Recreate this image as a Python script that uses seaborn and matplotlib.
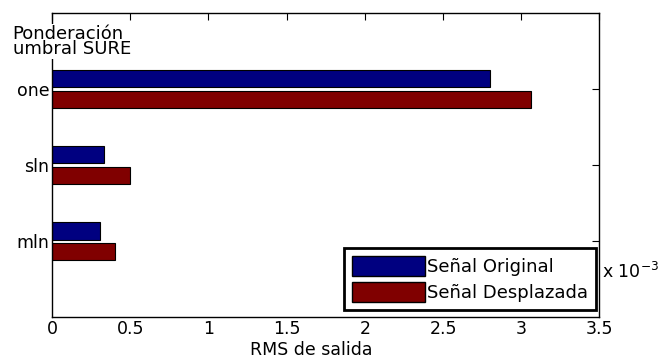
import matplotlib
matplotlib.use("Agg")
import matplotlib.pyplot as plt
import seaborn as sns
import pandas as pd
from matplotlib.patches import Patch

categories = ["one", "sln", "mln"]
series = ["Señal Original", "Señal Desplazada"]
original = [2.80, 0.33, 0.31]      # x 10^-3
desplazada = [3.06, 0.50, 0.40]    # x 10^-3
colors = ["#000080", "#800000"]
xticks = [0, 0.5, 1, 1.5, 2, 2.5, 3, 3.5]

sns.set_style("white")
plt.rcParams['font.family'] = ['DejaVu Sans']
plt.rcParams['text.color'] = 'black'
plt.rcParams['axes.labelcolor'] = 'black'
plt.rcParams['xtick.color'] = 'black'
plt.rcParams['ytick.color'] = 'black'
FS = 12.5
LFS = 13

rows = []
for c, o, d in zip(categories, original, desplazada):
    rows.append({"cat": c, "serie": series[0], "val": o})
    rows.append({"cat": c, "serie": series[1], "val": d})
df = pd.DataFrame(rows)

fig = plt.figure(figsize=(6.62, 3.6), dpi=100)
fig.patch.set_facecolor("white")
ax = fig.add_axes([0.0785, 0.119, 0.827, 0.845])

sns.barplot(data=df, y="cat", x="val", hue="serie", order=categories,
            hue_order=series, palette=colors, orient="h", width=0.55, gap=0.15,
            edgecolor="black", linewidth=0.8, saturation=1, legend=False, ax=ax)

ax.set_xlim(0, 3.5)
ax.set_ylim(3, -1)
ax.set_xticks(xticks)
ax.set_xticklabels([f"{t:g}" for t in xticks], fontsize=FS)
ax.set_yticks(range(len(categories)))
ax.set_yticklabels(categories, fontsize=FS)
ax.tick_params(direction="in", top=True, right=True, length=5, width=0.8,
               colors="black", pad=2)
for s in ax.spines.values():
    s.set_visible(True)
    s.set_color("black")
    s.set_linewidth(1.0)

ax.set_xlabel("RMS de salida", fontsize=FS, color="black")
ax.xaxis.set_label_coords(0.474, -0.08)
ax.set_ylabel("")
ax.text(-0.072, 0.96, "Ponderación\numbral SURE", transform=ax.transAxes,
        fontsize=LFS, ha="left", va="top", linespacing=0.8, color="black",
        bbox=dict(facecolor="white", edgecolor="none", pad=0.5))
ax.text(1.004, 0.15, r"x 10$^{-3}$", transform=ax.transAxes, fontsize=FS,
        ha="left", va="center", color="black")

handles = [Patch(facecolor=colors[i], edgecolor="black", label=series[i]) for i in range(2)]
leg = ax.legend(handles=handles, loc="lower right", bbox_to_anchor=(0.9945, 0.023),
                fontsize=LFS, frameon=True, fancybox=False, edgecolor="black",
                framealpha=1, handlelength=4.0, handleheight=1.3, borderaxespad=0.0,
                handletextpad=0.15, labelspacing=0.33, borderpad=0.45)
leg.get_frame().set_linewidth(2)
leg.get_frame().set_edgecolor("black")
for t in leg.get_texts():
    t.set_color("black")

fig.savefig("out.png", dpi=100, facecolor="white")
